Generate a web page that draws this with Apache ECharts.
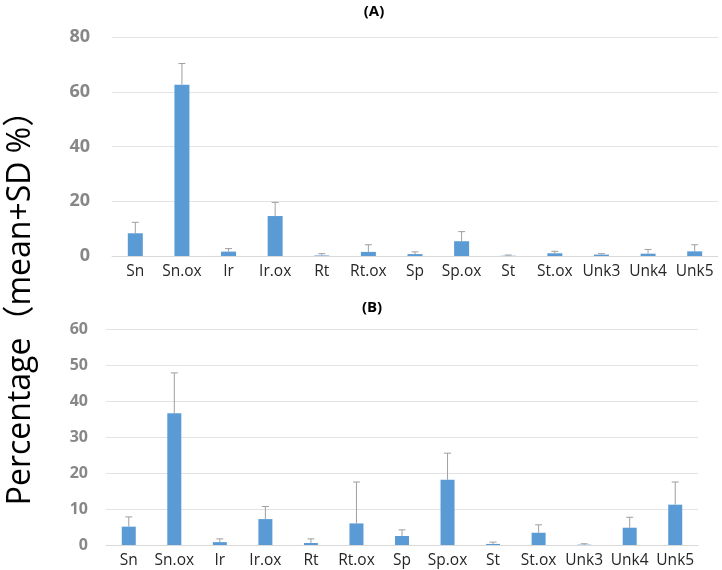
<!DOCTYPE html>
<html>
<head>
<meta charset="utf-8">
<script src="https://cdn.jsdelivr.net/npm/echarts@6/dist/echarts.min.js"></script>
<style>
  html, body { margin: 0; padding: 0; background: #fff; }
  #chart { width: 722px; height: 570px; }
</style>
</head>
<body>
<div id="chart"></div>
<script>
const categories = ['Sn', 'Sn.ox', 'Ir', 'Ir.ox', 'Rt', 'Rt.ox', 'Sp', 'Sp.ox', 'St', 'St.ox', 'Unk3', 'Unk4', 'Unk5'];
// Panel A: mean and mean+SD
const meanA = [8.3, 62.6, 1.6, 14.6, 0.2, 1.5, 0.7, 5.4, 0.1, 1.0, 0.5, 0.85, 1.7];
const upperA = [12.3, 70.3, 2.7, 19.6, 0.85, 4.1, 1.5, 8.9, 0.35, 1.7, 0.85, 2.4, 4.1];
// Panel B: mean and mean+SD
const meanB = [5.1, 36.6, 0.8, 7.2, 0.55, 6.0, 2.5, 18.1, 0.3, 3.4, 0.1, 4.8, 11.2];
const upperB = [7.8, 47.8, 1.7, 10.7, 1.7, 17.5, 4.2, 25.5, 0.8, 5.6, 0.35, 7.7, 17.5];
const ticksA = [0, 20, 40, 60, 80];
const ticksB = [0, 10, 20, 30, 40, 50, 60];

const chart = echarts.init(document.getElementById('chart'), null, { renderer: 'canvas' });

function errData(mean, upper) {
  return mean.map((m, i) => [i, m, upper[i]]);
}
function errRender(params, api) {
  const idx = api.value(0);
  const lo = api.coord([idx, api.value(1)]);
  const hi = api.coord([idx, api.value(2)]);
  const half = 3.5;
  const style = { stroke: '#9f9f9f', lineWidth: 1 };
  return {
    type: 'group',
    children: [
      { type: 'line', shape: { x1: lo[0], y1: lo[1], x2: hi[0], y2: hi[1] }, style: style },
      { type: 'line', shape: { x1: hi[0] - half, y1: hi[1], x2: hi[0] + half, y2: hi[1] }, style: style }
    ]
  };
}

const catAxis = (gi) => ({
  type: 'category', gridIndex: gi, data: categories,
  axisTick: { show: false },
  axisLine: { lineStyle: { color: '#d9d9d9', width: 1 } },
  axisLabel: { color: '#262626', fontSize: 15.5, fontFamily: 'Open Sans', margin: 8, interval: 0 }
});
const valAxis = (gi, max, interval, fs, margin) => ({
  type: 'value', gridIndex: gi, min: 0, max: max, interval: interval,
  axisLine: { show: false }, axisTick: { show: false },
  splitLine: { lineStyle: { color: '#e3e3e3', width: 1 } },
  axisLabel: { color: '#878787', fontSize: fs, fontWeight: 'bold', fontFamily: 'Open Sans', margin: margin }
});

const option = {
  animation: false,
  backgroundColor: '#ffffff',
  grid: [
    { left: 112, right: 4, top: 37, height: 219 },
    { left: 106, right: 24, top: 329, height: 216 }
  ],
  xAxis: [catAxis(0), catAxis(1)],
  yAxis: [
    valAxis(0, ticksA[ticksA.length - 1], ticksA[1] - ticksA[0], 18, 22),
    valAxis(1, ticksB[ticksB.length - 1], ticksB[1] - ticksB[0], 16, 18)
  ],
  series: [
    { type: 'bar', xAxisIndex: 0, yAxisIndex: 0, data: meanA, barWidth: 15, itemStyle: { color: '#5b9bd5' } },
    { type: 'custom', xAxisIndex: 0, yAxisIndex: 0, data: errData(meanA, upperA), renderItem: errRender, z: 3 },
    { type: 'bar', xAxisIndex: 1, yAxisIndex: 1, data: meanB, barWidth: 14, itemStyle: { color: '#5b9bd5' } },
    { type: 'custom', xAxisIndex: 1, yAxisIndex: 1, data: errData(meanB, upperB), renderItem: errRender, z: 3 }
  ],
  graphic: [
    { type: 'text', x: 374, y: 12, style: { text: '(A)', fill: '#000', font: 'bold 15px "Open Sans"', align: 'center', verticalAlign: 'middle' } },
    { type: 'text', x: 372, y: 308, style: { text: '(B)', fill: '#000', font: 'bold 15px "Open Sans"', align: 'center', verticalAlign: 'middle' } },
    { type: 'text', x: 21, y: 300, rotation: Math.PI / 2, style: { text: 'Percentage（mean+SD %）', fill: '#000', font: '32px "Open Sans", "Noto Sans CJK SC"', align: 'center', verticalAlign: 'middle' } }
  ]
};
chart.setOption(option);
</script>
</body>
</html>
